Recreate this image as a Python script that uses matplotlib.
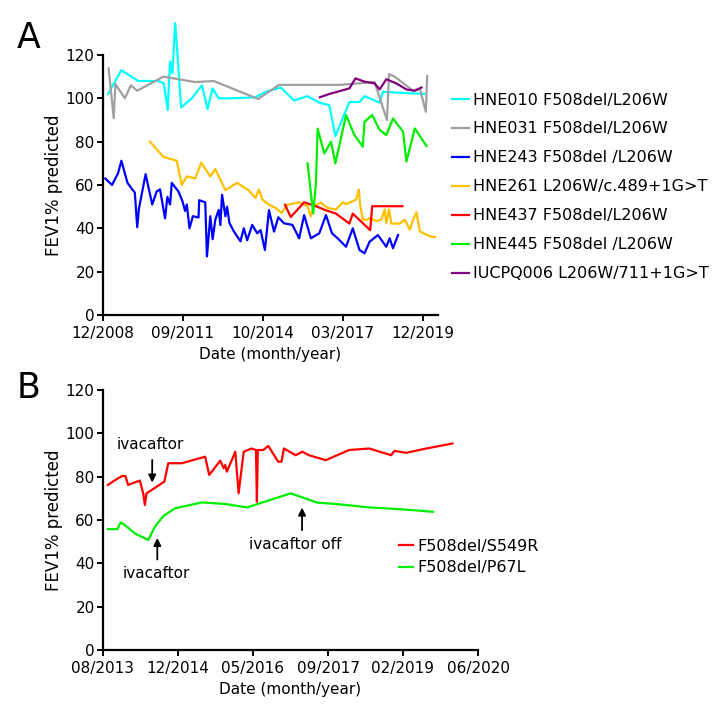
import matplotlib
matplotlib.use("Agg")
import matplotlib.pyplot as plt

plt.rcParams['font.family'] = ['DejaVu Sans']

FS = 11
FS_LEG = 11.5

# ---------------- Panel A data (x = days on an axis whose major unit is 1000) ----------------
a_tick_labels = ["12/2008", "09/2011", "10/2014", "03/2017", "12/2019"]
a_ticks = [0, 1000, 2000, 3000, 4000]

hne010_x = [63, 230, 440, 692, 760, 809, 839, 868, 902, 931, 977, 1111, 1237, 1308, 1371, 1447,
            1614, 1908, 2034, 2222, 2390, 2558, 2705, 2830, 2906, 3082, 3208, 3271, 3460, 3501,
            3753, 4026]
hne010_y = [102, 113, 108, 108, 107, 94.6, 117, 111.5, 134.7, 120.8, 95.8, 100, 106, 95, 104.6, 100,
            100, 100.5, 103, 105, 99, 101, 98, 96.8, 82.6, 98.3, 98.3, 101, 98, 103,
            102.5, 102]

hne031_x = [71, 134, 155, 273, 348, 428, 755, 1153, 1384, 1941, 2201, 2956, 3397, 3552, 3578,
            3649, 3879, 3963, 4038, 4055]
hne031_y = [113.8, 90.8, 106.6, 100, 106, 103.5, 110, 107.5, 108, 99.7, 106.2, 106.2, 107.5, 90, 111.2,
            110, 103.5, 104.6, 93.8, 110.3]

hne243_x = [29, 113, 189, 230, 306, 365, 398, 428, 449, 533, 616, 671, 713, 776, 805, 839, 860, 944,
            994, 1027, 1048, 1082, 1124, 1195, 1203, 1279, 1300, 1342, 1371, 1405, 1447, 1468, 1489,
            1531, 1552, 1581, 1635, 1719, 1761, 1803, 1866, 1929, 1971, 2025, 2076, 2139, 2193,
            2265, 2369, 2453, 2516, 2600, 2705, 2789, 2864, 2935, 3040, 3124, 3208, 3271, 3334,
            3439, 3543, 3585, 3627, 3690]
hne243_y = [63, 60, 65.5, 71.2, 61, 58, 56.5, 40.5, 49, 65, 51, 57, 58, 44.6, 54.5, 51, 61, 57,
            52.5, 48, 51, 40, 45.6, 45, 53, 52, 27, 45.6, 35, 44, 48.5, 41.5, 55.5,
            45.6, 50, 42.5, 38.7, 34, 40, 34.5, 41.6, 37.7, 39.2, 30, 48.4, 38.5, 45.1,
            42.3, 41.6, 35.4, 46.1, 35.4, 37.7, 46.1, 37.7, 35.4, 31.5, 40, 30, 28.5, 33.8,
            36.9, 31.5, 35.4, 30.8, 36.9]

hne261_x = [587, 755, 923, 985, 1048, 1153, 1229, 1342, 1405, 1531, 1677, 1824, 1908, 1950, 1992,
            2076, 2160, 2235, 2306, 2453, 2558, 2600, 2634, 2726, 2810, 2914, 2998, 3040, 3103,
            3166, 3200, 3216, 3250, 3313, 3334, 3418, 3481, 3523, 3543, 3577, 3606, 3711, 3774,
            3837, 3879, 3921, 3963, 4005, 4089, 4152]
hne261_y = [80, 73, 71.2, 60, 64, 63, 70.3, 64, 67.3, 57.6, 61, 57.5, 54, 57.9, 53.3,
            50.9, 49.4, 47.1, 50.9, 52, 50.2, 45.5, 50.2, 51.8, 49.4, 48.7, 52, 51.2, 52.2,
            53.3, 57.9, 50.9, 44, 44, 44.8, 43.3, 44, 48.7, 42.5, 48.7, 42.2, 42.2, 44,
            39.4, 44, 47.4, 38.6, 37.8, 36.3, 36]

hne437_x = [2277, 2348, 2516, 2663, 2789, 2914, 3082, 3124, 3342, 3367, 3745]
hne437_y = [50.9, 45.2, 52, 50.2, 48.3, 46.8, 42.2, 46.8, 39.1, 50.2, 50.2]

hne445_x = [2558, 2629, 2663, 2684, 2768, 2852, 2906, 3040, 3145, 3250, 3271, 3367, 3460, 3543,
            3627, 3753, 3795, 3900, 4047]
hne445_y = [70, 46.9, 60.7, 86, 74.6, 80, 70, 92.3, 83, 77.7, 89.2, 92.3, 85.4, 83,
            90.7, 84.6, 70.8, 86.1, 78]

iucpq006_x = [2713, 2830, 3082, 3158, 3271, 3397, 3460, 3543, 3669, 3795, 3900, 3984]
iucpq006_y = [100.5, 102, 104.6, 109.2, 107.7, 106.9, 104.1, 108.8, 106.9, 104.1, 103.5, 105]

a_labels = ["HNE010 F508del/L206W", "HNE031 F508del/L206W", "HNE243 F508del /L206W",
            "HNE261 L206W/c.489+1G>T", "HNE437 F508del/L206W", "HNE445 F508del /L206W",
            "IUCPQ006 L206W/711+1G>T"]
a_colors = ["#00FFFF", "#A0A0A0", "#0000FF", "#FFC000", "#FF0000", "#00EE00", "#800080"]

# ---------------- Panel B data (x = days on an axis whose major unit is 500) ----------------
b_tick_labels = ["08/2013", "12/2014", "05/2016", "09/2017", "02/2019", "06/2020"]
b_ticks = [0, 500, 1000, 1500, 2000, 2500]

s549r_x = [33, 83, 127, 150, 167, 246, 268, 279, 290, 409, 435, 525, 681, 708, 782, 804, 815, 826,
           882, 904, 938, 990, 1020, 1026, 1032, 1068, 1102, 1168, 1190, 1206, 1284, 1329, 1373,
           1485, 1641, 1775, 1921, 1943, 2021, 2155, 2330]
s549r_y = [76.2, 78.5, 80.3, 80.3, 76.2, 78.2, 72.3, 66.9, 72.3, 77.7, 86.2, 86.2, 89.2, 80.8, 87.4,
           83.9, 85.4, 82.3, 91.5, 72.3, 91.5, 93, 92.3, 68.4, 92.3, 92.3, 94.2, 86.9, 86.9, 93,
           89.9, 91.5, 89.9, 87.6, 92.3, 93, 89.9, 91.9, 91, 93, 95.3]

p67l_x = [33, 96, 118, 145, 212, 302, 346, 402, 480, 659, 815, 960, 1251, 1429, 1552, 1775, 1999, 2200]
p67l_y = [55.8, 55.8, 58.9, 57.7, 53.8, 50.8, 56.9, 61.8, 65.4, 68.1, 67.4, 65.8, 72.3, 68, 67.4,
          65.8, 64.9, 63.8]

b_labels = ["F508del/S549R", "F508del/P67L"]
b_colors = ["#FF0000", "#00EE00"]

W, H = 716, 706
fig = plt.figure(figsize=(W / 100, H / 100), dpi=100)

def px_box(left, right, top, bottom):
    return [left / W, 1 - bottom / H, (right - left) / W, (bottom - top) / H]

def style_axes(ax):
    for s in ["top", "right"]:
        ax.spines[s].set_visible(False)
    for s in ["left", "bottom"]:
        ax.spines[s].set_linewidth(1.6)
    ax.tick_params(direction="out", length=4, width=1.4, labelsize=FS)
    ax.tick_params(axis="x", pad=4)
    ax.tick_params(axis="y", pad=2)
    ax.set_ylim(0, 120)
    ax.set_yticks(range(0, 121, 20))
    ax.set_ylabel("FEV1% predicted", fontsize=12, labelpad=2)
    ax.set_xlabel("Date (month/year)", fontsize=FS, labelpad=4)

# Panel A
axA = fig.add_axes(px_box(103, 438, 55, 315))
series_a = [(hne010_x, hne010_y), (hne031_x, hne031_y), (hne243_x, hne243_y),
            (hne261_x, hne261_y), (hne437_x, hne437_y), (hne445_x, hne445_y),
            (iucpq006_x, iucpq006_y)]
handles_a = []
for (xs, ys), c, lab in zip(series_a, a_colors, a_labels):
    ln, = axA.plot(xs, ys, color=c, lw=1.6, label=lab, clip_on=False)
    handles_a.append(ln)
axA.set_xlim(0, 4190)
axA.set_xticks(a_ticks)
axA.set_xticklabels(a_tick_labels)
style_axes(axA)

fig.legend(handles=handles_a, labels=a_labels, loc="upper left",
           bbox_to_anchor=(452 / W, 1 - 92.5 / H), frameon=False, fontsize=FS_LEG,
           handlelength=1.05, handletextpad=0.25, labelspacing=0.875, borderpad=0,
           borderaxespad=0)

# Panel B
axB = fig.add_axes(px_box(103, 478, 390, 650))
l1, = axB.plot(s549r_x, s549r_y, color=b_colors[0], lw=1.6, label=b_labels[0])
l2, = axB.plot(p67l_x, p67l_y, color=b_colors[1], lw=1.6, label=b_labels[1])
axB.set_xlim(0, 2500)
axB.set_xticks(b_ticks)
axB.set_xticklabels(b_tick_labels)
style_axes(axB)

arrow = dict(arrowstyle="-|>", color="black", lw=1.3, mutation_scale=11)
axB.annotate("", xy=(328, 76), xytext=(328, 89), arrowprops=arrow)
axB.text(315, 95, "ivacaftor", ha="center", va="center", fontsize=FS)
axB.annotate("", xy=(362, 53), xytext=(362, 40.5), arrowprops=arrow)
axB.text(355, 35.5, "ivacaftor", ha="center", va="center", fontsize=FS)
axB.annotate("", xy=(1327, 67), xytext=(1327, 54), arrowprops=arrow)
axB.text(1280, 48.5, "ivacaftor off", ha="center", va="center", fontsize=FS)

fig.legend(handles=[l1, l2], labels=b_labels, loc="upper left",
           bbox_to_anchor=(399 / W, 1 - 539 / H), frameon=False, fontsize=FS_LEG,
           handlelength=0.85, handletextpad=0.3, labelspacing=0.4, borderpad=0,
           borderaxespad=0)

fig.text(17 / W, 1 - 38 / H, "A", fontsize=25, va="center", ha="left")
fig.text(17 / W, 1 - 388 / H, "B", fontsize=25, va="center", ha="left")

fig.savefig("out.png", dpi=100)
